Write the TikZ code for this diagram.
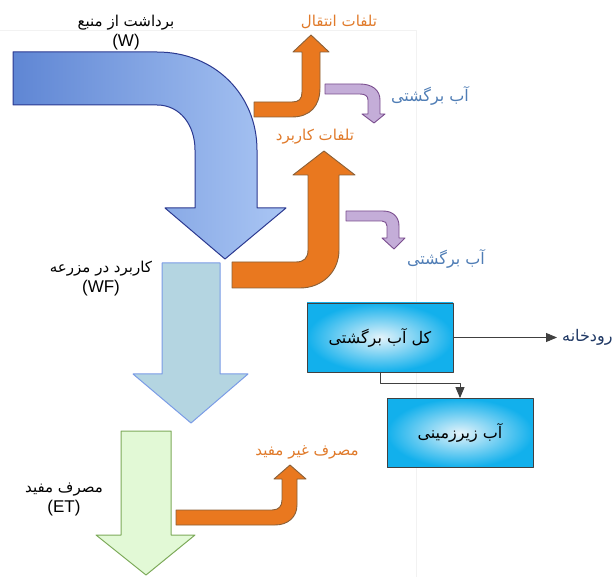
\documentclass[tikz,border=0pt]{standalone}
\usepackage{fontspec}
\setmainfont{Liberation Sans}
\newfontfamily\fafont[Script=Arabic]{DejaVu Sans}
\TeXXeTstate=1
\usepackage{tikz}
\usetikzlibrary{calc, arrows.meta}
\newcommand{\fatext}[1]{{\fafont\beginR #1\endR}}
\newcommand{\flowtext}[2]{{\fontsize{15}{18}\selectfont\fatext{#1}}\\(#2)}
\definecolor{wblue}{HTML}{2B3990}
\definecolor{wleft}{HTML}{5F86D4}
\definecolor{wright}{HTML}{AAC6F4}
\definecolor{wffill}{HTML}{B4D5E1}
\definecolor{wfdraw}{HTML}{7B9CE6}
\definecolor{etfill}{HTML}{E2F9D6}
\definecolor{etdraw}{HTML}{7DAA5A}
\definecolor{lossfill}{HTML}{E9781F}
\definecolor{lossdraw}{HTML}{8A6038}
\definecolor{backfill}{HTML}{C4ADD8}
\definecolor{backdraw}{HTML}{7A4D8E}
\definecolor{losstext}{HTML}{E07A2A}
\definecolor{backtext}{HTML}{4F7DB5}
\definecolor{rivertext}{HTML}{1F3864}
\definecolor{boxout}{HTML}{12B0EC}
\definecolor{boxin}{HTML}{E4F3FA}

\begin{document}
\begin{tikzpicture}[line cap=round, line join=round, x=1pt, y=-1pt,
	loss/.style={fill=lossfill, draw=lossdraw, line width=0.9pt},
	back/.style={fill=backfill, draw=backdraw, line width=0.9pt},
	losslabel/.style={text=losstext, font=\fafont\fontsize{15}{18}\selectfont},
	backlabel/.style={text=backtext, font=\fafont\fontsize{16}{18}\selectfont},
	flowlabel/.style={align=center, font=\fontsize{17}{20}\selectfont},
	link/.style={-{Triangle[length=11pt, width=9pt]}, black!75, line width=0.9pt},
	waterbox/.style={draw=black!75, line width=0.8pt, inner color=boxin, outer color=boxout, minimum width=146pt, minimum height=69pt, font=\fafont\fontsize{16}{18}\selectfont}]
		\useasboundingbox (0,0) rectangle (616,577);
		
		%Frame
		\draw[black!5, line width=0.6pt] (0,30) -- (416,30) -- (416,577);
		
		%Withdrawal
		\draw[left color=wleft, right color=wright, draw=wblue, line width=1pt]
			(13,52) -- (157,52) .. controls (215,52) and (257,95) .. (257,150)
			-- (257,208) -- (286,208) -- (225,259) -- (165,208) -- (195,208) -- (195,150)
			.. controls (195,125) and (180,105) .. (157,105) -- (13,105) -- cycle;
		
		%Farm use
		\draw[fill=wffill, draw=wfdraw, line width=1pt]
			(162,263) -- (220,263) -- (220,374) -- (248,374) -- (191,423) -- (133,374) -- (162,374) -- cycle;
		
		%Beneficial use
		\draw[fill=etfill, draw=etdraw, line width=1pt]
			(121,431) -- (171,431) -- (171,535) -- (195,535) -- (146,575) -- (96,535) -- (121,535) -- cycle;
		
		%Losses
		\draw[loss] (254,102) -- (292,102) .. controls (299,102) and (302,99) .. (302,92)
			-- (302,52) -- (293,52) -- (311,35) -- (329,52) -- (320,52) -- (320,88)
			.. controls (320,106) and (310,117) .. (292,117) -- (254,117) -- cycle;
		\draw[loss] (232,262) -- (296,262) .. controls (304,262) and (308,258) .. (308,250)
			-- (308,175) -- (293,175) -- (324,151) -- (355,175) -- (339,175) -- (339,250)
			.. controls (339,272) and (322,288) .. (300,288) -- (232,288) -- cycle;
		\draw[loss] (176,510) -- (272,510) .. controls (279,510) and (282,506) .. (282,500)
			-- (282,479) -- (274,479) -- (290,465) -- (306,479) -- (297,479) -- (297,505)
			.. controls (297,517) and (288,525) .. (275,525) -- (176,525) -- cycle;
		
		%Return flows
		\draw[back] (325,84) -- (360,84) .. controls (372,84) and (380,90) .. (380,100)
			-- (380,114) -- (385,114) -- (374,123) -- (362,114) -- (368,114) -- (368,100)
			.. controls (368,96) and (365,94) .. (360,94) -- (325,94) -- cycle;
		\draw[back] (346,211) -- (383,211) .. controls (393,211) and (399,217) .. (399,226)
			-- (399,238) -- (405,238) -- (394,249) -- (382,238) -- (387,238) -- (387,226)
			.. controls (387,223) and (385,221) .. (382,221) -- (346,221) -- cycle;
		
		%Nodes
		\node[flowlabel] (withdrawal) at (126,33) {\flowtext{برداشت از منبع}{W}};
		\node[flowlabel] (farm) at (101,279) {\flowtext{کاربرد در مزرعه}{WF}};
		\node[flowlabel] (beneficial) at (64,499) {\flowtext{مصرف مفید}{ET}};
		\node[losslabel] (transfer loss) at (339,22) {\fatext{تلفات انتقال}};
		\node[losslabel] (use loss) at (315,137) {\fatext{تلفات کاربرد}};
		\node[losslabel] (nonbeneficial) at (307,452) {\fatext{مصرف غیر مفید}};
		\node[backlabel] (return one) at (430,96) {\fatext{آب برگشتی}};
		\node[backlabel] (return two) at (446,259) {\fatext{آب برگشتی}};
		
		%Boxes
		\node[waterbox] (total) at (380,337.5) {\fatext{کل آب برگشتی}};
		\node[waterbox] (ground) at (460,433) {\fatext{آب زیرزمینی}};
		\node[anchor=west, text=rivertext, font=\fafont\fontsize{16}{18}\selectfont, inner xsep=5pt, inner ysep=0pt] (river) at (557,337.5) {\fatext{رودخانه}};
		
		%Connectors
		\draw[link] (total) -- (river);
		\draw[link] (total.south) -- ++(0,11) -| (ground.north);
		
	\end{tikzpicture}
\end{document}
